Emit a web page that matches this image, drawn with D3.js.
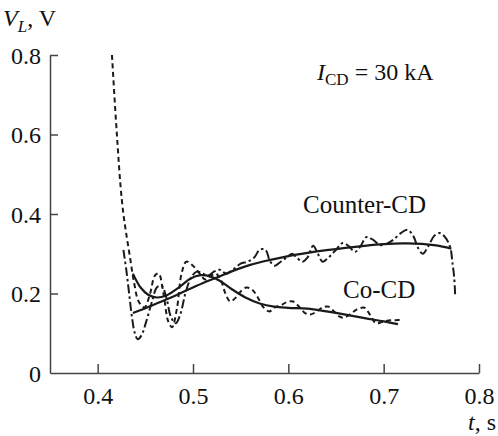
<!DOCTYPE html>
<html>
<head>
<meta charset="utf-8">
<script src="https://cdn.jsdelivr.net/npm/d3@7"></script>
<style>
  body { margin: 0; background: #fff; }
  svg text { font-family: "Liberation Serif", "DejaVu Serif", serif; fill: #111; }
</style>
</head>
<body>
<svg width="498" height="436"></svg>
<script>
// raw Co-CD signal (dashed)
let coRawT = [0.415, 0.418, 0.421, 0.424, 0.427, 0.430, 0.434, 0.438, 0.443, 0.449, 0.455, 0.460, 0.464, 0.469, 0.474, 0.478, 0.483, 0.488, 0.493, 0.500, 0.507, 0.513, 0.519, 0.524, 0.529, 0.534, 0.539, 0.545, 0.550, 0.556, 0.562, 0.568, 0.574, 0.580, 0.586, 0.592, 0.598, 0.605, 0.612, 0.618, 0.623, 0.630, 0.636, 0.642, 0.648, 0.653, 0.658, 0.665, 0.672, 0.680, 0.686, 0.692, 0.698, 0.705, 0.712, 0.720]
let coRawV = [0.80, 0.68, 0.57, 0.47, 0.40, 0.35, 0.29, 0.23, 0.18, 0.165, 0.20, 0.245, 0.25, 0.20, 0.13, 0.115, 0.16, 0.25, 0.28, 0.27, 0.25, 0.235, 0.245, 0.25, 0.235, 0.20, 0.18, 0.19, 0.205, 0.215, 0.21, 0.19, 0.165, 0.155, 0.165, 0.17, 0.178, 0.18, 0.165, 0.15, 0.147, 0.155, 0.165, 0.167, 0.155, 0.143, 0.139, 0.148, 0.16, 0.164, 0.145, 0.125, 0.128, 0.132, 0.133, 0.133]

// raw Counter-CD signal (dash-dot)
let ctRawT = [0.427, 0.430, 0.433, 0.436, 0.439, 0.442, 0.446, 0.451, 0.457, 0.462, 0.467, 0.472, 0.477, 0.482, 0.487, 0.492, 0.498, 0.504, 0.510, 0.516, 0.522, 0.528, 0.535, 0.542, 0.550, 0.557, 0.564, 0.570, 0.576, 0.581, 0.586, 0.592, 0.598, 0.604, 0.609, 0.615, 0.620, 0.626, 0.631, 0.636, 0.642, 0.650, 0.657, 0.663, 0.670, 0.676, 0.682, 0.689, 0.696, 0.703, 0.710, 0.718, 0.725, 0.731, 0.736, 0.741, 0.747, 0.753, 0.759, 0.765, 0.770, 0.772, 0.774, 0.775]
let ctRawV = [0.31, 0.26, 0.20, 0.14, 0.10, 0.085, 0.095, 0.13, 0.18, 0.215, 0.22, 0.19, 0.14, 0.125, 0.15, 0.20, 0.24, 0.255, 0.25, 0.245, 0.255, 0.26, 0.25, 0.26, 0.275, 0.28, 0.29, 0.31, 0.31, 0.28, 0.27, 0.28, 0.29, 0.30, 0.29, 0.28, 0.29, 0.32, 0.30, 0.28, 0.29, 0.31, 0.327, 0.32, 0.305, 0.32, 0.342, 0.335, 0.322, 0.325, 0.335, 0.352, 0.36, 0.345, 0.315, 0.30, 0.32, 0.345, 0.352, 0.34, 0.315, 0.28, 0.24, 0.196]

// smoothed fits (solid)
let coFitT = [0.437, 0.445, 0.453, 0.462, 0.472, 0.485, 0.497, 0.508, 0.518, 0.528, 0.540, 0.555, 0.570, 0.585, 0.600, 0.620, 0.640, 0.660, 0.680, 0.700, 0.715]
let coFitV = [0.25, 0.215, 0.197, 0.19, 0.195, 0.215, 0.237, 0.246, 0.243, 0.232, 0.212, 0.19, 0.175, 0.167, 0.164, 0.162, 0.155, 0.147, 0.138, 0.13, 0.123]
let ctFitT = [0.437, 0.450, 0.465, 0.480, 0.495, 0.510, 0.525, 0.540, 0.560, 0.580, 0.600, 0.620, 0.640, 0.660, 0.680, 0.700, 0.720, 0.740, 0.755, 0.771]
let ctFitV = [0.151, 0.163, 0.178, 0.193, 0.21, 0.226, 0.24, 0.255, 0.272, 0.284, 0.294, 0.302, 0.309, 0.315, 0.32, 0.324, 0.326, 0.325, 0.321, 0.313]

let xTicks = [0.4, 0.5, 0.6, 0.7, 0.8]
let yTicks = [0, 0.2, 0.4, 0.6, 0.8]

let svg = d3.select('svg')
let x = d3.scaleLinear().domain([0.35, 0.8]).range([50, 479])
let y = d3.scaleLinear().domain([0, 0.8]).range([373, 55])

let ink = '#1a1a1a'
let serif = '"Liberation Serif", "DejaVu Serif", serif'

// axes
let xAxis = svg.append('g')
  .attr('transform', 'translate(0,' + y(0) + ')')
  .call(d3.axisBottom(x).tickValues(xTicks).tickSizeInner(-9).tickSizeOuter(0).tickFormat(d3.format('.1f')))
let yAxis = svg.append('g')
  .attr('transform', 'translate(' + x(0.35) + ',0)')
  .call(d3.axisLeft(y).tickValues(yTicks).tickSizeInner(-8).tickSizeOuter(0).tickFormat(d => d === 0 ? '0' : d3.format('.1f')(d)))

svg.selectAll('g').attr('font-family', null).attr('font-size', null)
svg.selectAll('.domain').attr('stroke', '#444').attr('stroke-width', 1.5)
svg.selectAll('.tick line').attr('stroke', '#444').attr('stroke-width', 1.5)
yAxis.select('.tick line').remove()
xAxis.selectAll('.tick text').style('font-size', '24px').style('font-family', serif).attr('fill', ink).attr('y', 14)
yAxis.selectAll('.tick text').style('font-size', '24px').style('font-family', serif).attr('fill', ink).attr('x', -9).attr('dy', '0.34em')

let line = d3.line().x(d => x(d[0])).y(d => y(d[1])).curve(d3.curveCatmullRom)

function draw(ts, vs, dash, w) {
  svg.append('path')
    .datum(d3.zip(ts, vs))
    .attr('d', line)
    .attr('fill', 'none')
    .attr('stroke', ink)
    .attr('stroke-width', w)
    .attr('stroke-dasharray', dash)
}

draw(coRawT, coRawV, '5,3.5', 2)
draw(ctRawT, ctRawV, '9,3,2.5,3', 2)
draw(coFitT, coFitV, null, 2.2)
draw(ctFitT, ctFitV, null, 2.2)

// labels
let yTitle = svg.append('text').attr('x', 3).attr('y', 26).attr('font-size', 24)
yTitle.append('tspan').attr('font-style', 'italic').text('V')
yTitle.append('tspan').attr('font-style', 'italic').attr('font-size', 17).attr('dy', 6).text('L')
yTitle.append('tspan').attr('dy', -6).text(', V')

let xTitle = svg.append('text').attr('x', 496).attr('y', 430).attr('font-size', 24).attr('text-anchor', 'end')
xTitle.append('tspan').attr('font-style', 'italic').text('t')
xTitle.append('tspan').text(', s')

let cur = svg.append('text').attr('x', 317).attr('y', 80).attr('font-size', 24)
cur.append('tspan').attr('font-style', 'italic').text('I')
cur.append('tspan').attr('font-size', 17).attr('dy', 5).text('CD')
cur.append('tspan').attr('dy', -5).text(' = 30 kA')

svg.append('text').attr('x', 303).attr('y', 213).attr('font-size', 25).text('Counter-CD')
svg.append('text').attr('x', 343).attr('y', 298).attr('font-size', 25).text('Co-CD')
</script>
</body>
</html>
